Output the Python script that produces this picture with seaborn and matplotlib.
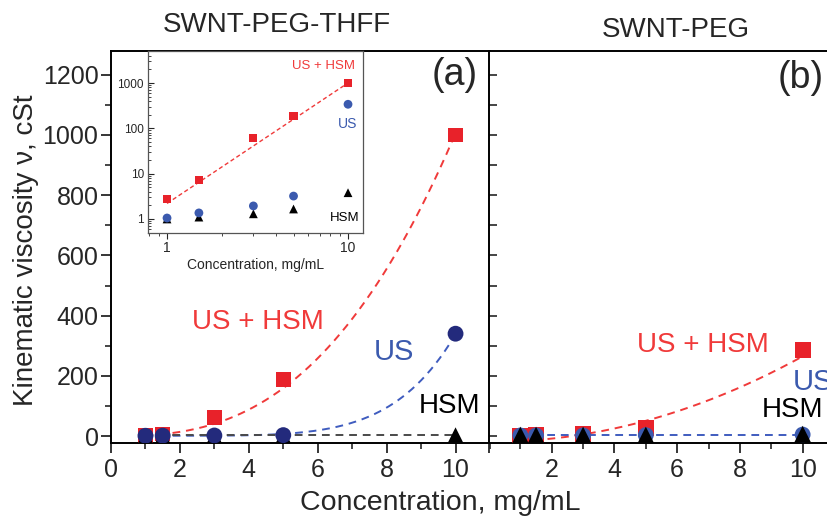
import numpy as np
import matplotlib
matplotlib.use('Agg')
import matplotlib.pyplot as plt
import seaborn as sns
from matplotlib.ticker import MultipleLocator, LogLocator, NullFormatter

sns.set_style('ticks')
plt.rcParams['font.family'] = ['Liberation Sans', 'DejaVu Sans']

# concentrations, mg/mL
conc = [1, 1.5, 3, 5, 10]

# (a) SWNT-PEG-THFF, kinematic viscosity in cSt
thff_us_hsm = [2.8, 7.3, 61, 187, 1000]
thff_us = [1.05, 1.36, 1.94, 3.2, 340]
thff_hsm = [1.0, 1.1, 1.3, 1.66, 3.8]

# (b) SWNT-PEG
peg_us_hsm = [2, 3, 6, 28, 286]
peg_us = [2, 2, 2, 3, 5]
peg_hsm = [3, 3, 3, 3, 6]

# fit coefficients
fit_thff_us_hsm = (2.2, 2.66)          # a * x^n
fit_thff_us = (1.0, 0.0006, 5.75)      # y0 + a * x^n
fit_thff_hsm = 2.0                     # flat
fit_peg_us_hsm = (2.887, -0.51, -18.9) # quadratic
fit_peg_us = 2.0                       # flat

red = '#e8222a'
red_line = '#f03a3a'
navy = '#232a7c'
blue = '#3b5aae'
blue_line = '#3f5cbf'
gray_line = '#4a4a4a'

xf = np.linspace(1, 10, 200)
y_thff_us_hsm = fit_thff_us_hsm[0] * xf ** fit_thff_us_hsm[1]
y_thff_us = fit_thff_us[0] + fit_thff_us[1] * xf ** fit_thff_us[2]
y_thff_hsm = np.full_like(xf, fit_thff_hsm)
y_peg_us_hsm = np.polyval(fit_peg_us_hsm, xf)
y_peg_us = np.full_like(xf, fit_peg_us)

W, H = 828, 516
fig = plt.figure(figsize=(W / 100, H / 100), dpi=100)
ax_a = fig.add_axes([111 / W, 73 / H, 379 / W, 392 / H])
ax_b = fig.add_axes([489 / W, 73 / H, 345 / W, 392 / H], sharey=ax_a)
ax_in = fig.add_axes([148 / W, 283 / H, 215 / W, 182 / H])

dash = (4, 3)

# ---- panel (a)
sns.lineplot(x=xf, y=y_thff_us_hsm, ax=ax_a, color=red_line, lw=1.4, linestyle=(0, dash))
sns.lineplot(x=xf, y=y_thff_us, ax=ax_a, color=blue_line, lw=1.4, linestyle=(0, dash))
sns.lineplot(x=xf, y=y_thff_hsm, ax=ax_a, color=gray_line, lw=1.4, linestyle=(0, dash))
sns.scatterplot(x=conc, y=thff_us_hsm, ax=ax_a, marker='s', s=110, color=red, edgecolor='none', zorder=3)
sns.scatterplot(x=conc, y=thff_hsm, ax=ax_a, marker='^', s=120, color='black', edgecolor='none', zorder=4)
sns.scatterplot(x=conc, y=thff_us, ax=ax_a, marker='o', s=130, color=navy, edgecolor='none', zorder=5)

# ---- panel (b)
sns.lineplot(x=xf, y=y_peg_us_hsm, ax=ax_b, color=red_line, lw=1.4, linestyle=(0, dash))
sns.lineplot(x=xf, y=y_peg_us, ax=ax_b, color=blue_line, lw=1.4, linestyle=(0, dash))
sns.scatterplot(x=conc, y=peg_us_hsm, ax=ax_b, marker='s', s=130, color=red, edgecolor='none', zorder=3)
sns.scatterplot(x=conc, y=peg_us, ax=ax_b, marker='o', s=130, color=blue, edgecolor='none', zorder=4)
sns.scatterplot(x=conc, y=peg_hsm, ax=ax_b, marker='^', s=150, color='black', edgecolor='none', zorder=5)

for ax in (ax_a, ax_b):
    ax.set_xlim(0, 11)
    ax.set_ylim(-23, 1279)
    ax.xaxis.set_major_locator(MultipleLocator(2))
    ax.xaxis.set_minor_locator(MultipleLocator(1))
    ax.yaxis.set_major_locator(MultipleLocator(200))
    ax.yaxis.set_minor_locator(MultipleLocator(100))
    ax.set_xlabel('')
    ax.set_ylabel('')
    for s in ax.spines.values():
        s.set_linewidth(1.4)
        s.set_color('black')
    ax.tick_params(axis='x', which='major', direction='out', length=7, width=1.3,
                   labelsize=18, pad=4, top=False)
    ax.tick_params(axis='x', which='minor', direction='out', length=4, width=1.2, top=False)

ax_a.tick_params(axis='y', which='major', direction='out', length=7, width=1.3,
                 labelsize=18, pad=2, right=False)
ax_a.tick_params(axis='y', which='minor', direction='out', length=4, width=1.2, right=False)
ax_b.tick_params(axis='y', which='both', direction='in', length=6, width=1.2,
                 labelleft=False, right=False)
ax_b.set_xticks([0, 2, 4, 6, 8, 10], labels=['', '2', '4', '6', '8', '10'])

# text labels, panel (a)
ax_a.text(455 / W, 1 - 75 / H, '(a)', transform=fig.transFigure, fontsize=27, ha='center', va='center')
ax_a.text(258 / W, 1 - 322 / H, 'US + HSM', transform=fig.transFigure, fontsize=20, color=red_line, ha='center', va='center')
ax_a.text(394 / W, 1 - 352 / H, 'US', transform=fig.transFigure, fontsize=21, color=blue, ha='center', va='center')
ax_a.text(450 / W, 1 - 406 / H, 'HSM', transform=fig.transFigure, fontsize=20, color='black', ha='center', va='center')

# text labels, panel (b)
ax_b.text(801 / W, 1 - 78 / H, '(b)', transform=fig.transFigure, fontsize=27, ha='center', va='center')
ax_b.text(703 / W, 1 - 345 / H, 'US + HSM', transform=fig.transFigure, fontsize=20, color=red_line, ha='center', va='center')
ax_b.text(793 / W, 1 - 382 / H, 'US', transform=fig.transFigure, fontsize=21, color=blue, ha='left', va='center')
ax_b.text(793 / W, 1 - 410 / H, 'HSM', transform=fig.transFigure, fontsize=20, color='black', ha='center', va='center')

# titles and axis labels
fig.text(277 / W, 1 - 25 / H, 'SWNT-PEG-THFF', fontsize=20, ha='center', va='center')
fig.text(676 / W, 1 - 30 / H, 'SWNT-PEG', fontsize=20, ha='center', va='center')
fig.text(440 / W, 1 - 510 / H, 'Concentration, mg/mL', fontsize=20.5, ha='center', va='baseline')
fig.text(26 / W, 1 - 250 / H, 'Kinematic viscosity \u03bd, cSt', fontsize=20, rotation=90,
         ha='center', va='center')

# ---- inset (log-log)
ax_in.set_xscale('log')
ax_in.set_yscale('log')
sns.lineplot(x=xf, y=y_thff_us_hsm, ax=ax_in, color=red_line, lw=1.0, linestyle=(0, (3, 2)))
sns.scatterplot(x=conc, y=thff_us_hsm, ax=ax_in, marker='s', s=35, color=red, edgecolor='none', zorder=3)
sns.scatterplot(x=conc, y=thff_hsm, ax=ax_in, marker='^', s=40, color='black', edgecolor='none', zorder=4)
sns.scatterplot(x=conc, y=thff_us, ax=ax_in, marker='o', s=40, color=blue, edgecolor='none', zorder=5)
ax_in.set_xlim(0.785, 12.1)
ax_in.set_ylim(0.49, 5100)
ax_in.set_xticks([1, 10], labels=['1', '10'])
ax_in.set_yticks([1, 10, 100, 1000], labels=['1', '10', '100', '1000'])
ax_in.xaxis.set_minor_locator(LogLocator(base=10, subs=np.arange(2, 10)))
ax_in.yaxis.set_minor_locator(LogLocator(base=10, subs=np.arange(2, 10)))
ax_in.xaxis.set_minor_formatter(NullFormatter())
ax_in.yaxis.set_minor_formatter(NullFormatter())
ax_in.tick_params(axis='x', which='major', direction='out', length=4, width=0.8, labelsize=10, pad=2)
ax_in.tick_params(axis='x', which='minor', direction='out', length=2, width=0.6)
ax_in.tick_params(axis='y', which='major', direction='in', length=4, width=0.8, labelsize=8.5, pad=3)
ax_in.tick_params(axis='y', which='minor', direction='in', length=2, width=0.6)
ax_in.set_xlabel('Concentration, mg/mL', fontsize=10, labelpad=2)
ax_in.set_ylabel('')
for s in ax_in.spines.values():
    s.set_linewidth(0.9)
    s.set_color('#555555')
ax_in.text(324 / W, 1 - 66 / H, 'US + HSM', transform=fig.transFigure, fontsize=9.5, color=red_line, ha='center', va='center')
ax_in.text(348 / W, 1 - 124 / H, 'US', transform=fig.transFigure, fontsize=10, color=blue, ha='center', va='center')
ax_in.text(345 / W, 1 - 218 / H, 'HSM', transform=fig.transFigure, fontsize=9.5, color='black', ha='center', va='center')

fig.savefig('out.png', dpi=100)
